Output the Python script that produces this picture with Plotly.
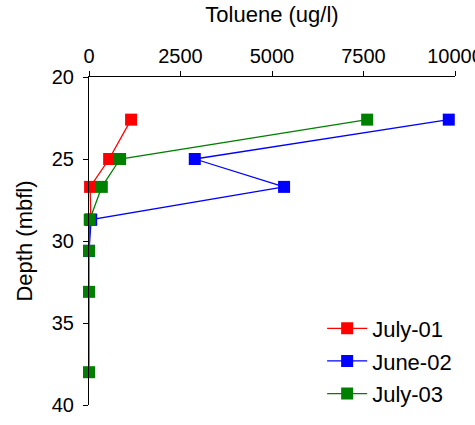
import plotly.graph_objects as go

# Depths (mbfl) and toluene concentrations (ug/l)
depth_july01 = [22.6, 25.0, 26.7, 28.7]
tol_july01 = [1150, 550, 30, 50]

depth_june02 = [22.6, 25.0, 26.7, 28.7, 30.6]
tol_june02 = [9830, 2890, 5330, 60, 0]

depth_july03 = [22.6, 25.0, 26.7, 28.7, 30.6, 33.1, 38.0]
tol_july03 = [7600, 850, 350, 20, 0, 0, 0]

x_ticks = [0, 2500, 5000, 7500, 10000]
y_ticks = [20, 25, 30, 35, 40]

FONT = "Liberation Sans, Arial, sans-serif"

fig = go.Figure()
series = [
    ("July-01", tol_july01, depth_july01, "#ff0000"),
    ("June-02", tol_june02, depth_june02, "#0000ff"),
    ("July-03", tol_july03, depth_july03, "#008000"),
]
for name, xs, ys, col in series:
    fig.add_trace(go.Scatter(
        x=xs, y=ys, name=name, mode="lines+markers", legendgroup=name,
        line=dict(color=col, width=1.3),
        marker=dict(symbol="square", size=12, color=col),
        cliponaxis=False,
    ))

fig.update_layout(
    width=475, height=425,
    margin=dict(l=89, r=20, t=77, b=20, autoexpand=False),
    paper_bgcolor="white", plot_bgcolor="white",
    font=dict(family=FONT, size=20, color="black"),
    showlegend=True,
    legend=dict(x=0.637, y=0.134, xanchor="left", yanchor="middle",
                bgcolor="rgba(0,0,0,0)", font=dict(size=22),
                itemwidth=40, tracegroupgap=1),
    xaxis=dict(
        side="top", range=[0, 10000], tickvals=x_ticks,
        ticktext=[str(v) for v in x_ticks],
        ticks="outside", ticklen=5, tickcolor="black",
        ticklabeloverflow="allow", automargin=False,
        showline=True, linecolor="black", linewidth=1,
        showgrid=False, zeroline=False,
        title=dict(text="Toluene (ug/l)", standoff=16, font=dict(size=22)),
    ),
    yaxis=dict(
        range=[40, 20], tickvals=y_ticks, automargin=False,
        ticks="outside", ticklen=5, ticklabelstandoff=5, tickcolor="black",
        showline=True, linecolor="black", linewidth=1,
        showgrid=False, zeroline=False,
        title=dict(text="Depth (mbfl)", standoff=13, font=dict(size=22)),
    ),
)

fig.write_html("out.html")
